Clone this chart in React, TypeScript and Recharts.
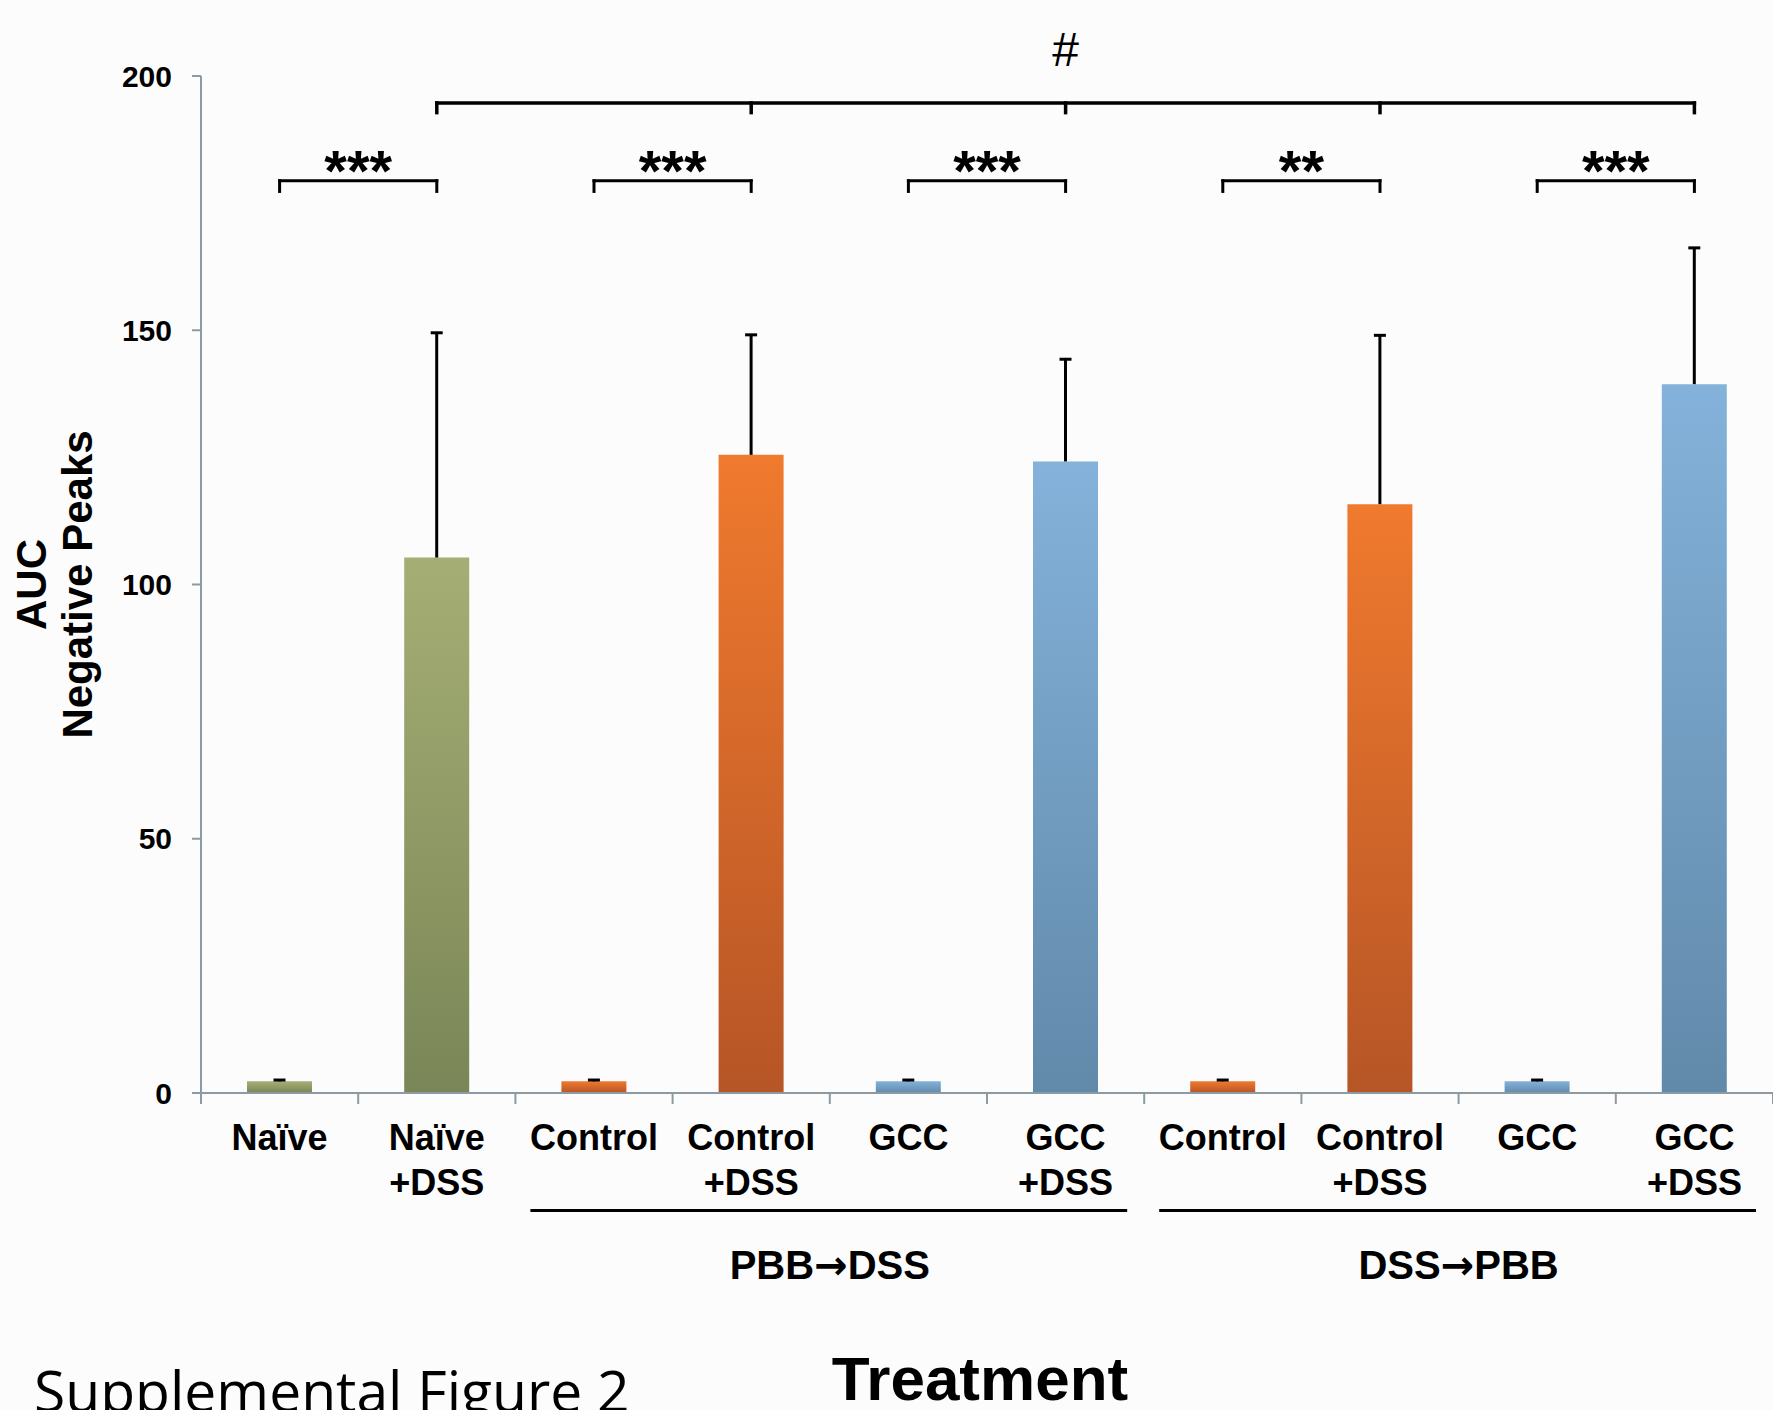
import React from 'react';
import { BarChart, Bar, XAxis, YAxis, Cell, ReferenceLine, ReferenceArea } from 'recharts';

// ---- data ----
const categoryKeys = [
  'Naïve', 'Naïve +DSS',
  'PBB→DSS Control', 'PBB→DSS Control +DSS', 'PBB→DSS GCC', 'PBB→DSS GCC +DSS',
  'DSS→PBB Control', 'DSS→PBB Control +DSS', 'DSS→PBB GCC', 'DSS→PBB GCC +DSS',
];
const labelLine1 = ['Naïve', 'Naïve', 'Control', 'Control', 'GCC', 'GCC', 'Control', 'Control', 'GCC', 'GCC'];
const labelLine2 = ['', '+DSS', '', '+DSS', '', '+DSS', '', '+DSS', '', '+DSS'];
const aucValues = [2.3, 105.3, 2.3, 125.5, 2.3, 124.2, 2.3, 115.8, 2.3, 139.4];
const aucErrors = [0.25, 44.2, 0.25, 23.6, 0.25, 20.1, 0.25, 33.2, 0.25, 26.8];
const colorGroups = ['green', 'green', 'orange', 'orange', 'blue', 'blue', 'orange', 'orange', 'blue', 'blue'];
const yTicks = [0, 50, 100, 150, 200];

const sigPairs: [number, number, string][] = [
  [0, 1, '***'], [2, 3, '***'], [4, 5, '***'], [6, 7, '**'], [8, 9, '***'],
];
const sigLevel = 179.4;
const sigTickEnd = 177.3;
const hashIdx = [1, 3, 5, 7, 9];
const hashLevel = 194.7;
const hashTickEnd = 192.8;
const groupSpans: [string, number, number, string][] = [['PBB', 2, 5, 'DSS'], ['DSS', 6, 9, 'PBB']];
const groupLineLevel = -23.1;

const data = categoryKeys.map((k, i) => ({
  key: k,
  value: aucValues[i],
  errUp: aucErrors[i],
}));

const gradients: Record<string, [string, string]> = {
  green: ['#a5ae74', '#7a8657'],
  orange: ['#f07a2e', '#b65526'],
  blue: ['#84b2da', '#6189aa'],
};

const AXIS = '#8b9aa3';
const FONT = '"Liberation Sans", Arial, Helvetica, sans-serif';

const CatTick = (props: any) => {
  const { x, y, payload, index, width, visibleTicksCount } = props;
  const band = payload && payload.offset ? payload.offset * 2 : width / visibleTicksCount;
  const i = index;
  return (
    <g>
      <line x1={x - band / 2} x2={x - band / 2} y1={y} y2={y + 11} stroke={AXIS} strokeWidth={2} />
      {i === visibleTicksCount - 1 && (
        <line x1={x + band / 2} x2={x + band / 2} y1={y} y2={y + 11} stroke={AXIS} strokeWidth={2} />
      )}
      <text x={x} y={y + 57} textAnchor="middle" fontFamily={FONT} fontWeight="bold" fontSize={36} fill="#000">
        {labelLine1[i]}
      </text>
      {labelLine2[i] && (
        <text x={x} y={y + 102} textAnchor="middle" fontFamily={FONT} fontWeight="bold" fontSize={36} fill="#000">
          {labelLine2[i]}
        </text>
      )}
    </g>
  );
};

const YTitle = (props: any) => {
  const vb = props.viewBox || {};
  const cy = vb.y + vb.height / 2;
  const x1 = vb.x + 46;
  const x2 = vb.x + 92;
  return (
    <g>
      <text x={x1} y={cy} transform={`rotate(-90 ${x1} ${cy})`} textAnchor="middle" fontFamily={FONT} fontWeight="bold" fontSize={42} fill="#000">
        AUC
      </text>
      <text x={x2} y={cy} transform={`rotate(-90 ${x2} ${cy})`} textAnchor="middle" fontFamily={FONT} fontWeight="bold" fontSize={42} fill="#000">
        Negative Peaks
      </text>
    </g>
  );
};

const ErrShape = (props: any) => {
  const { x, y, width, height } = props;
  if (x === undefined || y === undefined) return null;
  const cx = x + width / 2;
  return (
    <g>
      <line x1={cx} x2={cx} y1={y} y2={y + height} stroke="#000" strokeWidth={3} />
      <line x1={cx - 6} x2={cx + 6} y1={y} y2={y} stroke="#000" strokeWidth={3} />
    </g>
  );
};

const starLabel = (txt: string) => (props: any) => {
  const vb = props.viewBox || {};
  const x0 = vb.x !== undefined ? vb.x : Math.min(vb.x1, vb.x2);
  const w = vb.width !== undefined ? vb.width : Math.abs(vb.x2 - vb.x1);
  const y0 = vb.y !== undefined ? vb.y : vb.y1;
  return (
    <text x={x0 + w / 2} y={y0 + 10} textAnchor="middle" fontFamily={FONT} fontWeight="bold" fontSize={58} fill="#000">
      {txt}
    </text>
  );
};

const hashLabel = (props: any) => {
  const vb = props.viewBox || {};
  const x0 = vb.x !== undefined ? vb.x : Math.min(vb.x1, vb.x2);
  const w = vb.width !== undefined ? vb.width : Math.abs(vb.x2 - vb.x1);
  const y0 = vb.y !== undefined ? vb.y : vb.y1;
  return (
    <text x={x0 + w / 2} y={y0 - 37} textAnchor="middle" fontFamily={FONT} fontSize={48} fill="#000">
      #
    </text>
  );
};

const GroupLine = (props: any) => {
  const { x, y, width } = props;
  return <line x1={x + 15} x2={x + width - 17} y1={y} y2={y} stroke="#000" strokeWidth={3} />;
};

const groupLabel = (from: string, to: string) => (props: any) => {
  const vb = props.viewBox || {};
  return (
    <text x={vb.x + vb.width / 2} y={vb.y + 69} textAnchor="middle" fontFamily={FONT} fontWeight="bold" fontSize={40} fill="#000">
      {from}
      <tspan fontFamily='"DejaVu Sans", sans-serif' fontSize={40}>→</tspan>
      {to}
    </text>
  );
};

export default function App() {
  const br = { stroke: '#000', strokeWidth: 3, strokeLinecap: 'square' as const, ifOverflow: 'visible' as const };
  return (
    <div style={{ position: 'absolute', left: 0, top: 0, width: 1773, height: 1410, background: '#fdfcfc', overflow: 'hidden' }}>
      <BarChart width={1773} height={1410} data={data} margin={{ top: 76, right: 0, bottom: 0, left: 0 }} barCategoryGap={0}>
        <defs>
          {Object.keys(gradients).map((g) => (
            <linearGradient key={g} id={`grad-${g}`} x1="0" y1="0" x2="0" y2="1">
              <stop offset="0%" stopColor={gradients[g][0]} />
              <stop offset="100%" stopColor={gradients[g][1]} />
            </linearGradient>
          ))}
        </defs>
        <XAxis
          dataKey="key"
          interval={0}
          height={317}
          tickLine={false}
          tickSize={0}
          tickMargin={0}
          axisLine={{ stroke: AXIS, strokeWidth: 2 }}
          tick={<CatTick />}
          label={{ value: 'Treatment', position: 'insideBottom', offset: 10, dx: -7, fontSize: 62, fontWeight: 'bold', fill: '#000', fontFamily: FONT }}
        />
        <YAxis
          width={201}
          domain={[0, 200]}
          ticks={yTicks}
          interval={0}
          tickSize={9}
          tickMargin={20}
          axisLine={{ stroke: AXIS, strokeWidth: 2 }}
          tickLine={{ stroke: AXIS, strokeWidth: 2 }}
          tick={{ fontSize: 30, fontWeight: 'bold', fill: '#000', fontFamily: FONT }}
          label={<YTitle />}
        />
        <Bar dataKey="value" stackId="s" barSize={65} isAnimationActive={false}>
          {data.map((d, i) => (
            <Cell key={d.key} fill={`url(#grad-${colorGroups[i]})`} />
          ))}
        </Bar>
        <Bar dataKey="errUp" stackId="s" barSize={65} isAnimationActive={false} shape={<ErrShape />} />

        {sigPairs.map(([a, b, s]) => (
          <ReferenceLine
            key={`sig-${a}`}
            {...br}
            segment={[{ x: categoryKeys[a], y: sigLevel }, { x: categoryKeys[b], y: sigLevel }]}
            label={starLabel(s)}
          />
        ))}
        {sigPairs.flatMap(([a, b]) =>
          [a, b].map((c) => (
            <ReferenceLine
              key={`sigt-${c}`}
              {...br}
              segment={[{ x: categoryKeys[c], y: sigLevel }, { x: categoryKeys[c], y: sigTickEnd }]}
            />
          ))
        )}
        <ReferenceLine
          {...br}
          strokeWidth={3.5}
          segment={[{ x: categoryKeys[hashIdx[0]], y: hashLevel }, { x: categoryKeys[hashIdx[hashIdx.length - 1]], y: hashLevel }]}
          label={hashLabel}
        />
        {hashIdx.map((c) => (
          <ReferenceLine
            key={`hasht-${c}`}
            {...br}
            strokeWidth={3.5}
            segment={[{ x: categoryKeys[c], y: hashLevel }, { x: categoryKeys[c], y: hashTickEnd }]}
          />
        ))}
        {groupSpans.map(([from, a, b, to]) => (
          <ReferenceArea
            key={`grp-${from}`}
            x1={categoryKeys[a]}
            x2={categoryKeys[b]}
            y1={groupLineLevel}
            y2={groupLineLevel}
            ifOverflow="visible"
            shape={<GroupLine />}
            label={groupLabel(from, to)}
          />
        ))}
      </BarChart>
      <div
        style={{
          position: 'absolute',
          left: 34,
          top: 1351,
          fontFamily: '"Open Sans", sans-serif',
          fontSize: 57,
          lineHeight: '78px',
          color: '#000',
          whiteSpace: 'nowrap',
        }}
      >
        Supplemental Figure 2
      </div>
    </div>
  );
}
